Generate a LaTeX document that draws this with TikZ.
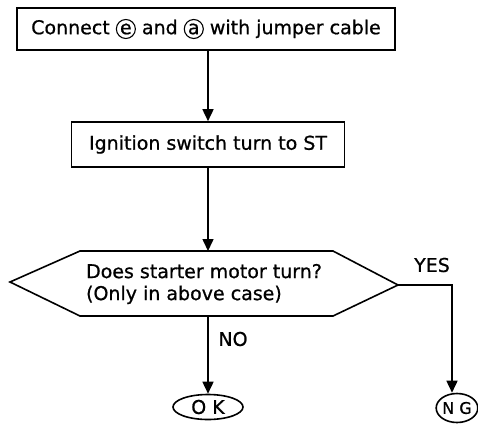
\documentclass[tikz,border=0pt]{standalone}
\usepackage{fontspec}
\setmainfont{DejaVu Sans}[FakeBold=0.8]
\usetikzlibrary{arrows.meta,shapes.geometric}
\newcommand{\ringed}[1]{\tikz[baseline=(ch.base)]\node[draw,circle,line width=1.1pt,inner sep=0pt,minimum size=19pt] (ch) {#1};}

\begin{document}
\begin{tikzpicture}[x=1pt,y=-1pt,line width=1.6pt,
  font=\fontsize{19}{22}\selectfont,
  stepbox/.style={draw,inner sep=0pt},
  endcap/.style={draw,ellipse,inner sep=0pt},
  flow/.style={-{Triangle[length=12pt,width=11pt]}}]
\useasboundingbox (0,0) rectangle (478,425);
\node[stepbox,minimum width=378pt,minimum height=42pt] (connect) at (206,29) {Connect \ringed{e} and \ringed{a} with jumper cable};
\node[stepbox,minimum width=273pt,minimum height=45pt] (ignition) at (208,144.5) {Ignition switch turn to ST};
% decision hexagon
\coordinate (dtop) at (208,251);
\coordinate (dbot) at (208,316);
\coordinate (dright) at (398,285);
\draw (10,282)--(80,251)--(333,251)--(dright)--(333,316)--(80,316)--cycle;
\node[align=left] (question) at (204,284) {Does starter motor turn?\\(Only in above case)};
\node (yes) at (432,265) {YES};
\node (no) at (233,339) {NO};
\node[endcap,minimum width=70pt,minimum height=25pt] (ok) at (208,407) {O K};
\node[endcap,minimum width=40pt,minimum height=29pt,font=\fontsize{16}{18}\selectfont] (ng) at (457,408) {N G};
\coordinate (yesbend) at (452,285);
\draw[flow] (connect.south -| ignition.north) -- (ignition.north);
\draw[flow] (ignition.south) -- (dtop);
\draw[flow] (dbot) -- (ok.north);
\draw[flow] (dright) -- (yesbend) -- (yesbend |- ng.north);
\end{tikzpicture}
\end{document}
